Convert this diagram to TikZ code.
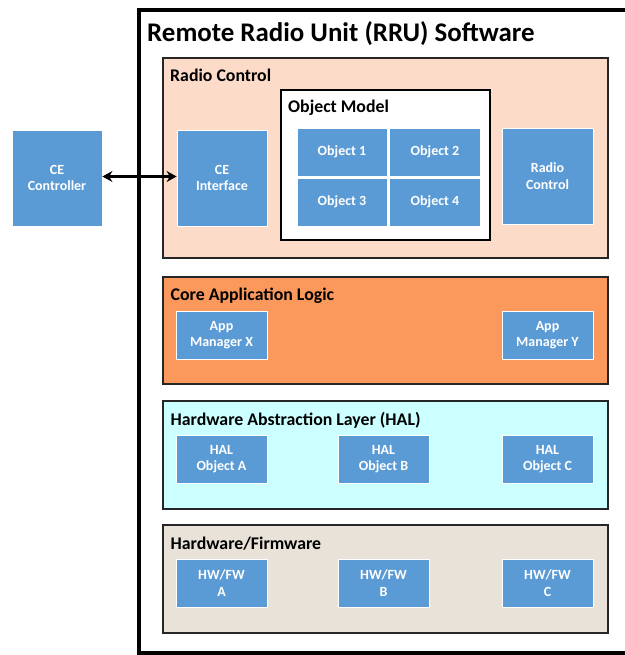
\documentclass[tikz,border=0pt]{standalone}
\usepackage{fontspec}
\setmainfont{Carlito}
\usetikzlibrary{arrows.meta}
\definecolor{bluefill}{RGB}{91,155,213}
\definecolor{peach}{RGB}{252,219,200}
\definecolor{orangefill}{RGB}{251,152,91}
\definecolor{cyanfill}{RGB}{204,255,255}
\definecolor{beige}{RGB}{233,226,216}
\tikzset{
  bluebox/.style={draw=white, line width=0.8pt, fill=bluefill, text=white,
    font=\bfseries\fontsize{14}{16.7}\selectfont, align=center, inner sep=0pt,
    minimum width=91pt, minimum height=48pt},
  tallbox/.style={bluebox, minimum height=96pt},
  panel/.style={draw=black!85, line width=1.3pt, inner sep=0pt},
  panellabel/.style={anchor=base west, inner sep=0pt, font=\bfseries\fontsize{17.8}{20}\selectfont},
}
\begin{document}
\begin{tikzpicture}[x=1pt,y=-1pt]
\useasboundingbox (0,0) rectangle (624,655);
% outer RRU box
\draw[line width=4pt] (630,10.5) -- (138.5,10.5) -- (138.5,652.5) -- (630,652.5);
\node[anchor=base west, inner sep=0pt, font=\bfseries\fontsize{26.9}{30}\selectfont] (title) at (147,41.5) {Remote Radio Unit (RRU) Software};

% panels
\node[panel, fill=peach, minimum width=445pt, minimum height=200pt] (rcpanel) at (385.5,158) {};
\node[panel, fill=orangefill, minimum width=445pt, minimum height=107pt] (core) at (385.5,330.5) {};
\node[panel, fill=cyanfill, minimum width=445pt, minimum height=108pt] (hal) at (385.5,455) {};
\node[panel, fill=beige, minimum width=445pt, minimum height=108pt] (hw) at (385.5,579) {};
\node[draw=black, line width=1.3pt, fill=white, inner sep=0pt, minimum width=209pt, minimum height=150pt] (om) at (385.5,165) {};

\node[panellabel] (rclabel) at (170,81.5) {Radio Control};
\node[panellabel] (omlabel) at (288,113) {Object Model};
\node[panellabel] (corelabel) at (170.5,300.5) {Core Application Logic};
\node[panellabel] (hallabel) at (170.5,425) {Hardware Abstraction Layer (HAL)};
\node[panellabel] (hwlabel) at (170.5,549) {Hardware/Firmware};

% blue boxes
\node[tallbox, minimum width=90pt] (cectrl) at (57,178) {CE\\Controller};
\node[tallbox, minimum width=90pt] (ceif) at (222,178) {CE\\Interface};
\node[bluebox, minimum width=90pt] (obj1) at (342,152) {Object 1};
\node[bluebox] (obj2) at (435,152) {Object 2};
\node[bluebox, minimum width=90pt] (obj3) at (342,202) {Object 3};
\node[bluebox] (obj4) at (435,202) {Object 4};
\node[tallbox] (radioctl) at (547.5,176) {Radio\\Control};

\node[bluebox] (appx) at (221.5,335) {App\\Manager X};
\node[bluebox] (appy) at (547.5,335) {App\\Manager Y};

\node[bluebox] (hala) at (221.5,459) {HAL\\Object A};
\node[bluebox] (halb) at (383.5,459) {HAL\\Object B};
\node[bluebox] (halc) at (547.5,459) {HAL\\Object C};

\node[bluebox] (hwa) at (221.5,583) {HW/FW\\A};
\node[bluebox] (hwb) at (383.5,583) {HW/FW\\B};
\node[bluebox] (hwc) at (547.5,583) {HW/FW\\C};

% connector
\draw[{Stealth[length=10pt,width=11pt]}-{Stealth[length=10pt,width=11pt]}, line width=3pt] ([yshift=1.5pt]cectrl.east) -- ([yshift=1.5pt]ceif.west);
\end{tikzpicture}
\end{document}
